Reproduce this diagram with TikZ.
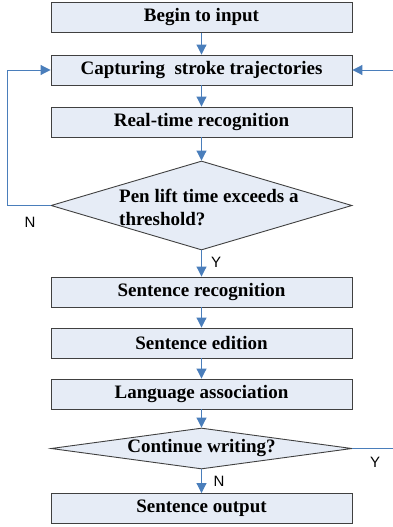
\documentclass[tikz,border=0pt]{standalone}
\usepackage{fontspec}
\setmainfont{Liberation Serif}
\newfontfamily\labfont{Liberation Sans}
\usetikzlibrary{arrows.meta,shapes.geometric}
\definecolor{boxfill}{HTML}{E6ECF6}
\definecolor{linkblue}{HTML}{4A7EBB}
\definecolor{edge}{HTML}{404040}
\tikzset{
  stepbox/.style={draw=edge, line width=0.9pt, fill=boxfill, minimum width=301pt, minimum height=30pt, inner sep=0pt, font=\fontsize{19}{22}\selectfont\bfseries},
  decbox/.style={draw=edge, line width=0.9pt, fill=boxfill, shape=diamond, minimum width=301pt, inner sep=0pt},
  link/.style={draw=linkblue, line width=1pt, -{Triangle[width=10pt,length=10pt]}},
  lab/.style={font=\labfont\fontsize{15}{17}\selectfont, inner sep=0pt}
}
\begin{document}
\begin{tikzpicture}[x=1pt,y=-1pt]
\useasboundingbox (0,0) rectangle (393,527);
\node[stepbox] (begin) at (201.5,17.5) {Begin to input};
\node[stepbox] (capt) at (201.5,70) {Capturing\ \ stroke trajectories};
\node[stepbox] (real) at (201.5,122) {Real-time recognition};
\node[decbox, minimum height=89pt] (d1) at (201.5,205.5) {};
\node[font=\fontsize{19}{23}\selectfont\bfseries, align=left, anchor=west, inner sep=0pt] (d1t) at (119,207) {Pen lift time exceeds a\\threshold?};
\node[stepbox] (srec) at (201.5,292) {Sentence recognition};
\node[stepbox] (sed) at (201.5,343) {Sentence edition};
\node[stepbox] (lang) at (201.5,394) {Language association};
\node[decbox, minimum height=41pt] (d2) at (201.5,448.5) {};
\node[font=\fontsize{19}{22}\selectfont\bfseries, inner sep=0pt] (d2t) at (201.5,448) {Continue writing?};
\node[stepbox] (out) at (201.5,508.5) {Sentence output};

\coordinate (lc) at (7,205.5);
\coordinate (rc) at (405,448.5);

\draw[link] (begin) -- (capt);
\draw[link] (capt) -- (real);
\draw[link] (real) -- (d1.north);
\draw[link] (d1.south) -- (srec);
\draw[link] (srec) -- (sed);
\draw[link] (sed) -- (lang);
\draw[link] (lang) -- (d2.north);
\draw[link] (d2.south) -- (out);
\draw[link] (d1.west) -- (lc) |- (capt.west);
\draw[link] (d2.east) -- (rc) |- (capt.east);

\node[lab] (n1) at (30,222) {N};
\node[lab] (y1) at (216,262) {Y};
\node[lab] (y2) at (375,462) {Y};
\node[lab] (n2) at (219,481) {N};
\end{tikzpicture}
\end{document}
